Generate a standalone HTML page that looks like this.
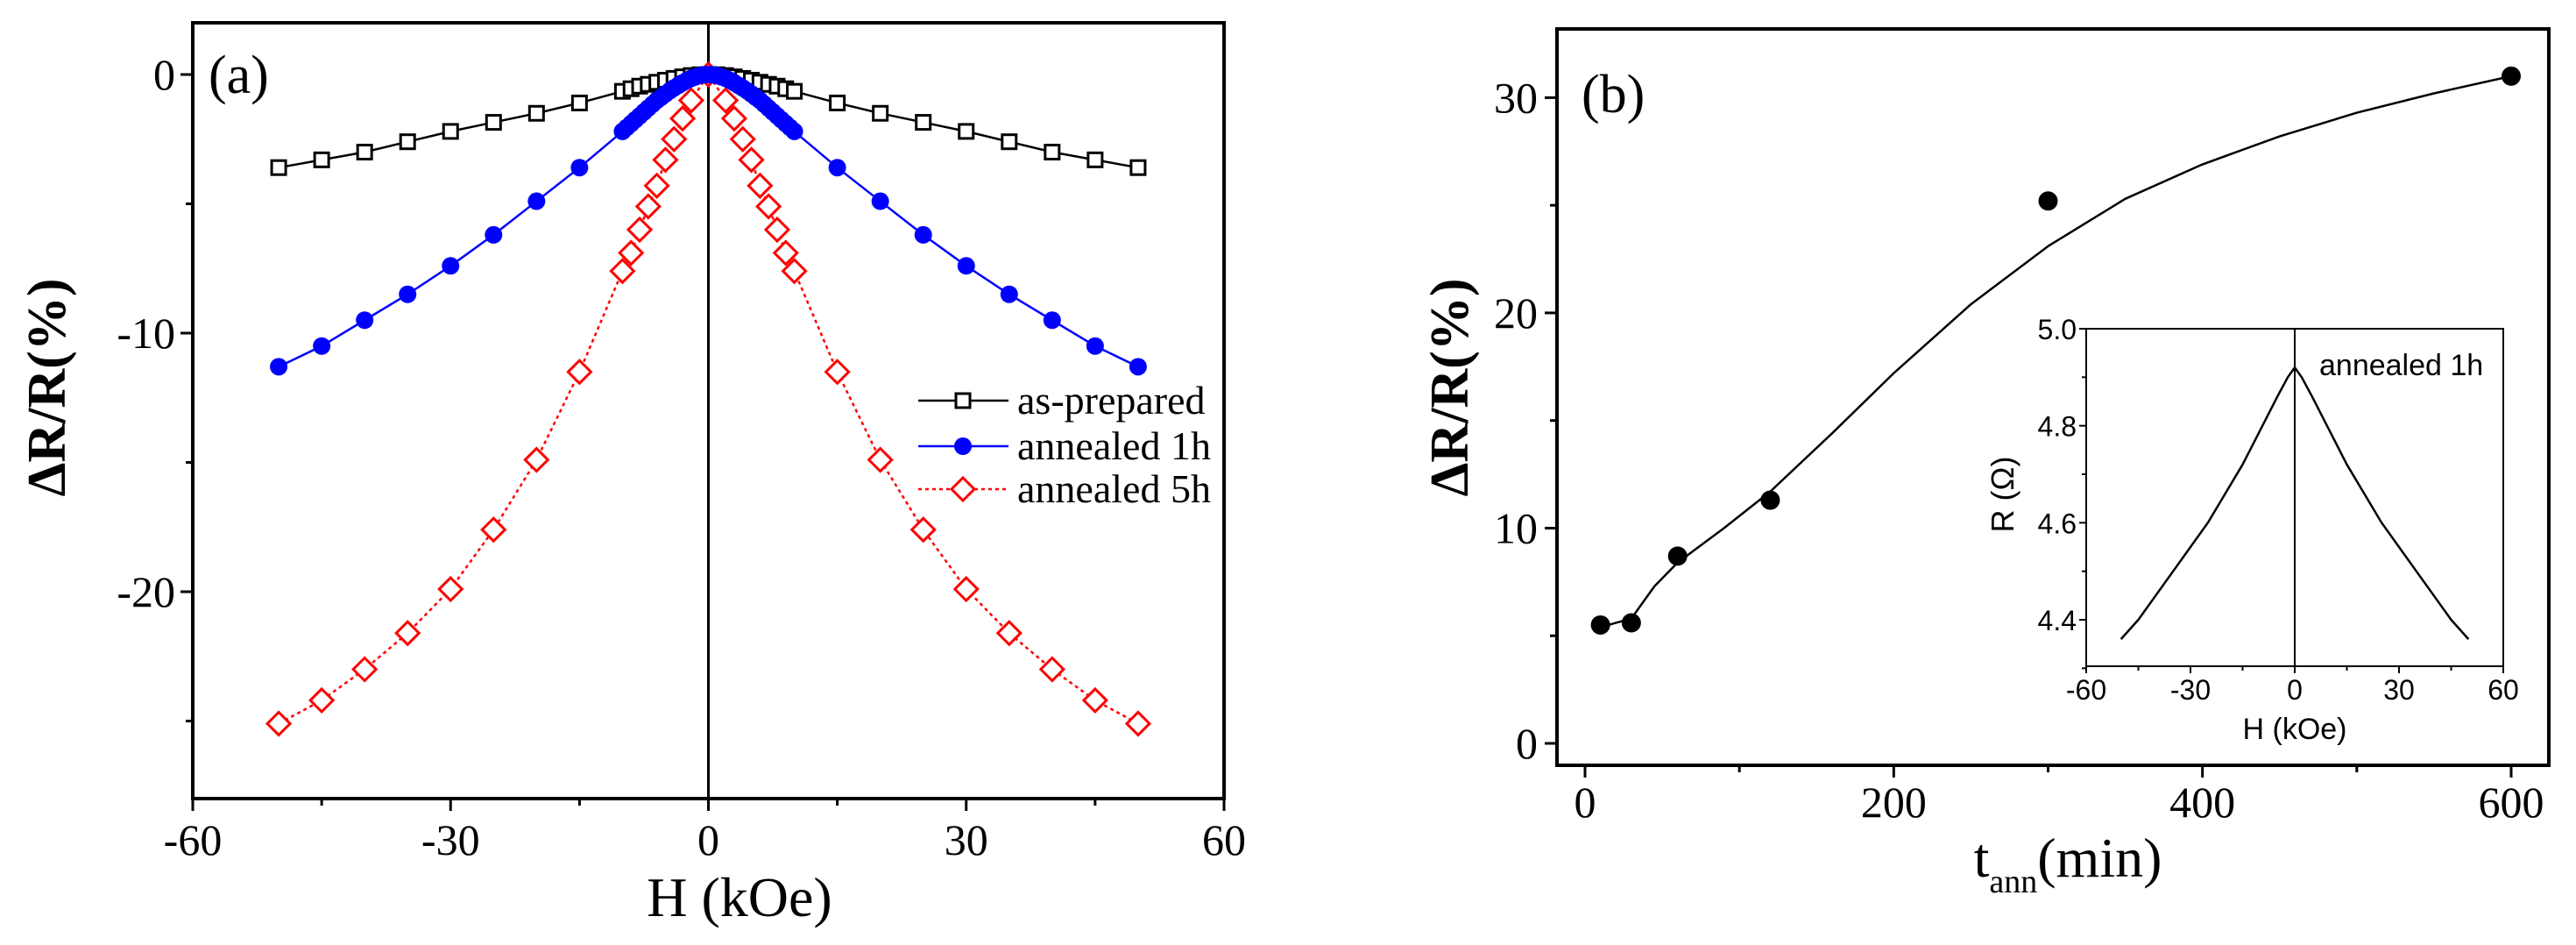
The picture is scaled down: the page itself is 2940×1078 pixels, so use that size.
<!DOCTYPE html>
<html><head><meta charset="utf-8"><style>
html,body{margin:0;padding:0;background:#fff;}
svg{display:block;}
.ser{font-family:"Liberation Serif",serif;}
.san{font-family:"Liberation Sans",sans-serif;}
</style></head><body>
<svg id="fig" width="2940" height="1078" viewBox="0 0 2940 1078" xmlns="http://www.w3.org/2000/svg">
<g id="pa"></g>
<g id="pb"></g>
<g id="pi"></g>
</svg>
<script>
// Panel (a) data
const hLeft = [-50,-45,-40,-35,-30,-25,-20,-15,-10,-9,-8,-7,-6,-5,-4,-3,-2,-1,0];
const asPrepared = [-3.6,-3.3,-3.0,-2.6,-2.2,-1.85,-1.5,-1.1,-0.65,-0.55,-0.45,-0.38,-0.3,-0.22,-0.15,-0.09,-0.04,-0.01,0];
const hBlue = [-50,-45,-40,-35,-30,-25,-20,-15,-10,-9.5,-9,-8.5,-8,-7.5,-7,-6.5,-6,-5.5,-5,-4.5,-4,-3.5,-3,-2.5,-2,-1.5,-1,-0.5,0];
const annealed1h = [-11.3,-10.5,-9.5,-8.5,-7.4,-6.2,-4.9,-3.6,-2.2,-2.05,-1.9,-1.75,-1.6,-1.45,-1.3,-1.15,-1.0,-0.88,-0.75,-0.63,-0.52,-0.42,-0.32,-0.23,-0.15,-0.09,-0.04,-0.01,0];
const hRed = [-50,-45,-40,-35,-30,-25,-20,-15,-10,-9,-8,-7,-6,-5,-4,-3,-2,0];
const annealed5h = [-25.1,-24.2,-23.0,-21.6,-19.9,-17.6,-14.9,-11.5,-7.6,-6.9,-6.0,-5.1,-4.3,-3.3,-2.5,-1.7,-1.0,0];
const aXTicks = [-60,-30,0,30,60];
const aYTicks = [0,-10,-20];
// Panel (b) data
const tAnn = [10,30,60,120,300,600];
const dRR = [5.5,5.6,8.7,11.3,25.2,31.0];
const fitT = [10,30,45,60,90,120,160,200,250,300,350,400,450,500,550,600];
const fitV = [5.4,5.8,7.3,8.4,10.0,11.7,14.4,17.2,20.4,23.1,25.3,26.9,28.2,29.3,30.2,31.0];
const bXTicks = [0,200,400,600];
const bYTicks = [0,10,20,30];
// Inset data
const insH = [-50,-45,-40,-35,-30,-25,-20,-15,-10,-5,-2,0,2,5,10,15,20,25,30,35,40,45,50];
const insR = [4.36,4.40,4.45,4.50,4.55,4.60,4.66,4.72,4.79,4.86,4.90,4.92,4.90,4.86,4.79,4.72,4.66,4.60,4.55,4.50,4.45,4.40,4.36];
const iXTicks = [-60,-30,0,30,60];
const iYTicks = [4.4,4.6,4.8,5.0];

const NS='http://www.w3.org/2000/svg';
function mk(parent,tag,attrs,text){const e=document.createElementNS(NS,tag);for(const k in attrs)e.setAttribute(k,attrs[k]);if(text!==undefined)e.textContent=text;parent.appendChild(e);return e;}
function lin(d0,d1,r0,r1){return v=>r0+(v-d0)*(r1-r0)/(d1-d0);}

// ---------- Panel A ----------
const A=document.getElementById('pa');
const ax=lin(-60,60,220,1397), ay=lin(2,-28,26,911);
let e;
e=mk(A,'rect',{x:220,y:26,width:1177,height:885,fill:'none',stroke:'#000','stroke-width':4});

e=mk(A,'line',{x1:ax(0),x2:ax(0),y1:26,y2:911,stroke:'#000','stroke-width':3});

for(let v=-60;v<=60;v+=15){const major=v%30===0;e=mk(A,'line',{x1:ax(v),x2:ax(v),y1:911,y2:911+(major?14:8),stroke:'#000','stroke-width':3});}
for(let v=0;v>=-25;v-=5){const major=v%10===0;e=mk(A,'line',{x1:220-(major?14:8),x2:220,y1:ay(v),y2:ay(v),stroke:'#000','stroke-width':3});}
aXTicks.forEach(v=>{e=mk(A,'text',{x:ax(v),y:975,'text-anchor':'middle','font-size':50,class:'ser'},String(v));});
aYTicks.forEach(v=>{e=mk(A,'text',{x:200,y:ay(v)+17,'text-anchor':'end','font-size':50,class:'ser'},String(v));});
e=mk(A,'text',{x:844,y:1045,'text-anchor':'middle','font-size':64,class:'ser'},'H (kOe)');

e=mk(A,'text',{x:0,y:0,'text-anchor':'middle','font-size':62,'font-weight':'bold',class:'ser',transform:'translate(74,442) rotate(-90)'},'ΔR/R(%)');

e=mk(A,'text',{x:238,y:106,'font-size':62,class:'ser'},'(a)');


function series(g,xs,ys,sx,sy,color,dash,marker,name){
  const pts=[];xs.forEach((x,i)=>pts.push([x,ys[i]]));
  const full=xs[xs.length-1]===0?pts.concat(pts.slice(0,-1).reverse().map(p=>[-p[0],p[1]])):pts;
  const sg=mk(g,'g',{});
  const p=mk(sg,'polyline',{points:full.map(p=>sx(p[0])+','+sy(p[1])).join(' '),fill:'none',stroke:color,'stroke-width':2.5});
  if(dash)p.setAttribute('stroke-dasharray',dash);
  full.forEach(q=>drawMarker(sg,sx(q[0]),sy(q[1]),marker,color));
}
function drawMarker(g,cx,cy,m,color){
  let el;
  if(m==='sq')el=mk(g,'rect',{x:cx-8,y:cy-8,width:16,height:16,fill:'#fff',stroke:color,'stroke-width':3});
  else if(m==='ci')el=mk(g,'circle',{cx:cx,cy:cy,r:10,fill:color});
  else if(m==='dm')el=mk(g,'polygon',{points:`${cx},${cy-13} ${cx+13},${cy} ${cx},${cy+13} ${cx-13},${cy}`,fill:'#fff',stroke:color,'stroke-width':3});
  else if(m==='bc')el=mk(g,'circle',{cx:cx,cy:cy,r:11,fill:'#000'});
  
  
}
series(A,hLeft,asPrepared,ax,ay,'#000',null,'sq','series-as-prepared');
series(A,hRed,annealed5h,ax,ay,'#f00','4 4','dm','series-annealed-5h');
series(A,hBlue,annealed1h,ax,ay,'#00f',null,'ci','series-annealed-1h');

// legend
const L=mk(A,'g',{});
[['as-prepared','#000',null,'sq',457],['annealed 1h','#00f',null,'ci',509],['annealed 5h','#f00','4 4','dm',558]].forEach(r=>{
  const g=mk(L,'g',{});
  const l=mk(g,'line',{x1:1048,x2:1151,y1:r[4],y2:r[4],stroke:r[1],'stroke-width':2.5});if(r[2])l.setAttribute('stroke-dasharray',r[2]);
  drawMarker(g,1099,r[4],r[3],r[1]);
  mk(g,'text',{x:1161,y:r[4]+15,'font-size':46,class:'ser'},r[0]);
});

// ---------- Panel B ----------
const B=document.getElementById('pb');
const bx=lin(0,600,1809,2866), by=lin(0,30,848,111.4);
e=mk(B,'rect',{x:1777,y:33,width:1132,height:840,fill:'none',stroke:'#000','stroke-width':4});

for(let v=0;v<=600;v+=100){const major=v%200===0;e=mk(B,'line',{x1:bx(v),x2:bx(v),y1:873,y2:873+(major?14:8),stroke:'#000','stroke-width':3});}
for(let v=0;v<=30;v+=5){const major=v%10===0;e=mk(B,'line',{x1:1777-(major?14:8),x2:1777,y1:by(v),y2:by(v),stroke:'#000','stroke-width':3});}
bXTicks.forEach(v=>{e=mk(B,'text',{x:bx(v),y:932,'text-anchor':'middle','font-size':50,class:'ser'},String(v));});
bYTicks.forEach(v=>{e=mk(B,'text',{x:1755,y:by(v)+17,'text-anchor':'end','font-size':50,class:'ser'},String(v));});
e=mk(B,'text',{x:2360,y:1000,'text-anchor':'middle','font-size':64,class:'ser'});

mk(e,'tspan',{},'t');mk(e,'tspan',{'font-size':38,dy:18},'ann');mk(e,'tspan',{dy:-18},'(min)');
e=mk(B,'text',{x:0,y:0,'text-anchor':'middle','font-size':62,'font-weight':'bold',class:'ser',transform:'translate(1675,442) rotate(-90)'},'ΔR/R(%)');

e=mk(B,'text',{x:1805,y:128,'font-size':62,class:'ser'},'(b)');

e=mk(B,'polyline',{points:fitT.map((t,i)=>bx(t)+','+by(fitV[i])).join(' '),fill:'none',stroke:'#000','stroke-width':2.5,'stroke-linejoin':'round'});

tAnn.forEach((t,i)=>drawMarker(B,bx(t),by(dRR[i]),'bc','#000'));

// ---------- Inset ----------
const I=document.getElementById('pi');
const ix=lin(-60,60,2381,2857), iy=lin(5.0,4.4,375,707);
e=mk(I,'rect',{x:2381,y:375,width:476,height:385,fill:'none',stroke:'#000','stroke-width':2});

e=mk(I,'line',{x1:ix(0),x2:ix(0),y1:375,y2:760,stroke:'#000','stroke-width':2});

for(let v=-60;v<=60;v+=15){const major=v%30===0;e=mk(I,'line',{x1:ix(v),x2:ix(v),y1:760,y2:760+(major?8:5),stroke:'#000','stroke-width':2});}
for(let v=4.3;v<=5.001;v+=0.1){e=mk(I,'line',{x1:2381-(Math.abs(Math.round(v*10)%2)===0?8:5),x2:2381,y1:iy(v),y2:iy(v),stroke:'#000','stroke-width':2});}
iXTicks.forEach(v=>{e=mk(I,'text',{x:ix(v),y:798,'text-anchor':'middle','font-size':32,class:'san'},String(v));});
iYTicks.forEach(v=>{e=mk(I,'text',{x:2370,y:iy(v)+12,'text-anchor':'end','font-size':32,class:'san'},v.toFixed(1));});
e=mk(I,'text',{x:2619,y:843,'text-anchor':'middle','font-size':34,class:'san'},'H (kOe)');

e=mk(I,'text',{x:0,y:0,'text-anchor':'middle','font-size':36,class:'san',transform:'translate(2298,564) rotate(-90)'},'R (Ω)');

e=mk(I,'text',{x:2647,y:428,'font-size':34,class:'san'},'annealed 1h');

e=mk(I,'polyline',{points:insH.map((h,i)=>ix(h)+','+iy(insR[i])).join(' '),fill:'none',stroke:'#000','stroke-width':2.5,'stroke-linejoin':'round'});

</script>
</body></html>
